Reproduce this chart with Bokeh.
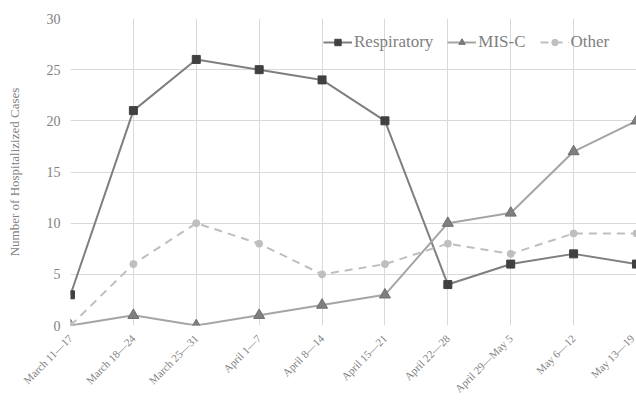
import math
from bokeh.plotting import figure
from bokeh.models import Range1d, FixedTicker, Legend, LegendItem
from bokeh.embed import file_html
from bokeh.resources import INLINE

weeks = ["March 11\u201417", "March 18\u201424", "March 25\u201431", "April 1\u20147",
         "April 8\u201414", "April 15\u201421", "April 22\u201428", "April 29\u2014May 5",
         "May 6\u201412", "May 13\u201419"]
respiratory = [3, 21, 26, 25, 24, 20, 4, 6, 7, 6]
misc = [0, 1, 0, 1, 2, 3, 10, 11, 17, 20]
other = [0, 6, 10, 8, 5, 6, 8, 7, 9, 9]
y_ticks = [0, 5, 10, 15, 20, 25, 30]

xs = list(range(len(weeks)))
FONT = "'Liberation Serif', 'Times New Roman', Times, serif"
TXT = "#7f7f7f"

p = figure(width=636, height=401, output_backend="svg", toolbar_location=None,
           x_range=Range1d(0, len(weeks) - 1), y_range=Range1d(0, 30),
           min_border_left=70, min_border_right=0, min_border_top=18, min_border_bottom=76)
p.outline_line_color = None
p.background_fill_color = "white"

p.xaxis.ticker = FixedTicker(ticks=xs)
p.xaxis.major_label_overrides = {i: w for i, w in enumerate(weeks)}
p.xaxis.major_label_orientation = math.pi / 4
p.yaxis.ticker = FixedTicker(ticks=y_ticks)

p.axis.axis_line_color = None
p.axis.major_tick_line_color = None
p.axis.minor_tick_line_color = None
p.axis.major_label_text_font = FONT
p.axis.major_label_text_color = TXT
p.axis.axis_label_text_font = FONT
p.axis.axis_label_text_color = TXT
p.axis.axis_label_text_font_style = "normal"

p.xaxis.major_label_text_font_size = "11px"
p.xaxis.major_label_standoff = 5
p.yaxis.major_label_text_font_size = "14px"
p.yaxis.major_label_standoff = 4
p.yaxis.axis_label = "Number of Hospitalizized Cases"
p.yaxis.axis_label_text_font_size = "13px"
p.yaxis.axis_label_standoff = 22

p.xgrid.grid_line_color = "#d9d9d9"
p.ygrid.grid_line_color = "#d9d9d9"
p.xgrid.grid_line_width = 1
p.ygrid.grid_line_width = 1

r_line = p.line(xs, respiratory, line_color="#7f7f7f", line_width=2)
r_mark = p.scatter(xs, respiratory, marker="square", size=8, fill_color="#404040", line_color="#404040")
m_line = p.line(xs, misc, line_color="#a5a5a5", line_width=2)
m_mark = p.scatter(xs, misc, marker="triangle", size=11, fill_color="#7f7f7f", line_color="#6f6f6f")
o_line = p.line(xs, other, line_color="#bfbfbf", line_width=2, line_dash="8 6")
o_mark = p.scatter(xs, other, marker="circle", size=7, fill_color="#bfbfbf", line_color="#bfbfbf")

legend = Legend(items=[
    LegendItem(label="Respiratory", renderers=[r_line, r_mark]),
    LegendItem(label="MIS-C", renderers=[m_line, m_mark]),
    LegendItem(label="Other", renderers=[o_line, o_mark]),
], orientation="horizontal", location=(253, 273))
legend.background_fill_alpha = 0
legend.border_line_color = None
legend.label_text_font = FONT
legend.label_text_font_size = "17px"
legend.label_text_color = TXT
legend.glyph_width = 29
legend.glyph_height = 16
legend.label_standoff = 2
legend.spacing = 14
legend.padding = 0
legend.margin = 0
legend.label_height = 16
p.add_layout(legend, "center")

open("out.html", "w").write(file_html(p, INLINE))
